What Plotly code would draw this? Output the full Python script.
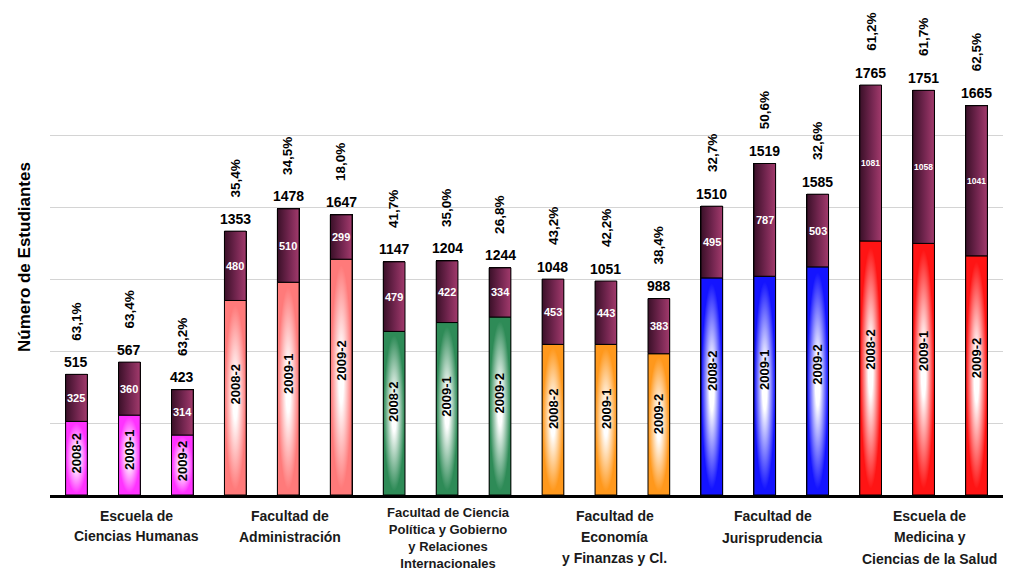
import plotly.graph_objects as go

# ---------------- data ----------------
groups = [
    ["Escuela de", "Ciencias Humanas"],
    ["Facultad de", "Administración"],
    ["Facultad de Ciencia", "Política y Gobierno", "y Relaciones", "Internacionales"],
    ["Facultad de", "Economía", "y Finanzas y Cl."],
    ["Facultad de", "Jurisprudencia"],
    ["Escuela de", "Medicina y", "Ciencias de la Salud"],
]
periods = ["2008-2", "2009-1", "2009-2"]

# labels printed on the chart
total_labels = [515, 567, 423, 1353, 1478, 1647, 1147, 1204, 1244,
                1048, 1051, 988, 1510, 1519, 1585, 1765, 1751, 1665]
inner_labels = [325, 360, 314, 480, 510, 299, 479, 422, 334,
                453, 443, 383, 495, 787, 503, 1081, 1058, 1041]
pct_labels = ["63,1%", "63,4%", "63,2%", "35,4%", "34,5%", "18,0%",
              "41,7%", "35,0%", "26,8%", "43,2%", "42,2%", "38,4%",
              "32,7%", "50,6%", "32,6%", "61,2%", "61,7%", "62,5%"]

# segment heights as drawn
lower_values = [307, 333, 250, 811, 887, 983, 682, 719, 742,
                628, 628, 589, 905, 912, 951, 1059, 1049, 997]
upper_values = [196, 221, 189, 289, 306, 185, 290, 257, 205,
                272, 264, 230, 299, 470, 303, 650, 638, 626]

# ---------------- style ----------------
FONT = "Liberation Sans, Arial, sans-serif"
group_colors = ["#ff33ff", "#ff7a7a", "#2e8b57", "#ff981c", "#1414ff", "#ff1414"]
upper_scale = [[0, "#3a1028"], [0.55, "#742650"], [1, "#a23a6c"]]
group_line_gap = [20, 21.5, 0, 21, 22, 21.7]   # 0 -> one wrapped block
group_xshift = [7, 2, 1, 9, 8, 6]
BAR_W = 0.41

n = len(total_labels)
xs = list(range(n))
fig = go.Figure()

# base bars (stacked)
lower_cols = [group_colors[i // 3] for i in xs]
fig.add_trace(go.Bar(x=xs, y=lower_values, width=BAR_W,
                     marker=dict(color=lower_cols, line=dict(color="black", width=1)),
                     hoverinfo="skip", showlegend=False))
fig.add_trace(go.Bar(x=xs, y=upper_values, width=BAR_W,
                     marker=dict(color="#742650", line=dict(color="black", width=1)),
                     hoverinfo="skip", showlegend=False))

# gradient overlays matching each bar segment
for i in xs:
    x0, x1 = i - BAR_W / 2, i + BAR_W / 2
    lo = lower_values[i]
    hi = lower_values[i] + upper_values[i]
    col = group_colors[i // 3]
    fig.add_trace(go.Scatter(
        x=[x0, x1, x1, x0, x0], y=[0, 0, lo, lo, 0], mode="lines", fill="toself",
        line=dict(color="black", width=1),
        fillgradient=dict(type="radial",
                          colorscale=[[0, "#ffffff"], [0.22, "#ffffff"], [0.95, col], [1, col]]),
        hoverinfo="skip", showlegend=False))
    fig.add_trace(go.Scatter(
        x=[x0, x1, x1, x0, x0], y=[lo, lo, hi, hi, lo], mode="lines", fill="toself",
        line=dict(color="black", width=1),
        fillgradient=dict(type="horizontal", colorscale=upper_scale),
        hoverinfo="skip", showlegend=False))

ann = []
for i in xs:
    lo = lower_values[i]
    hi = lower_values[i] + upper_values[i]
    ann.append(dict(x=i, y=hi, yshift=12.5, text=str(total_labels[i]), showarrow=False,
                    xanchor="center", yanchor="middle",
                    font=dict(family=FONT, size=14, color="black", weight="bold")))
    ann.append(dict(x=i, y=hi, yshift=53, text=pct_labels[i], showarrow=False, textangle=-90,
                    xanchor="center", yanchor="middle",
                    font=dict(family=FONT, size=13.5, color="black", weight="bold")))
    s = str(inner_labels[i])
    ann.append(dict(x=i, y=lo + upper_values[i] / 2, text=s, showarrow=False,
                    xanchor="center", yanchor="middle",
                    font=dict(family=FONT, size=11 if len(s) == 3 else 8.5, color="white", weight="bold")))
    ann.append(dict(x=i, y=lo * 0.57, text=periods[i % 3], showarrow=False, textangle=-90,
                    xanchor="center", yanchor="middle",
                    font=dict(family=FONT, size=13, color="black", weight="bold")))

for g, lines in enumerate(groups):
    if group_line_gap[g] == 0:
        ann.append(dict(x=g * 3 + 1, xref="x", y=0, yref="paper", yshift=-43,
                        xshift=group_xshift[g], text="<br>".join(lines), showarrow=False,
                        xanchor="center", yanchor="middle", align="center",
                        font=dict(family=FONT, size=13, color="#1a1a1a", weight="bold")))
        continue
    for k, line in enumerate(lines):
        ann.append(dict(x=g * 3 + 1, xref="x", y=0, yref="paper", yshift=-20.5 - k * group_line_gap[g],
                        xshift=group_xshift[g], text=line, showarrow=False,
                        xanchor="center", yanchor="middle",
                        font=dict(family=FONT, size=14, color="#1a1a1a", weight="bold")))

ann.append(dict(x=0, xref="paper", xshift=-25, y=0.551, yref="paper", text="Número de Estudiantes",
                showarrow=False, textangle=-90, xanchor="center", yanchor="middle",
                font=dict(family=FONT, size=17, color="black", weight="bold")))

fig.update_layout(
    width=1023, height=579,
    margin=dict(l=50, r=20, t=63, b=84),
    barmode="stack", paper_bgcolor="white", plot_bgcolor="white",
    annotations=ann, showlegend=False,
    xaxis=dict(range=[-0.5, n - 0.5], showgrid=False, zeroline=False, showticklabels=False,
               ticks="", showline=True, linecolor="black", linewidth=3),
    yaxis=dict(range=[0, 1801], tick0=0, dtick=300, showgrid=True, gridcolor="#d4d4d4", gridwidth=1,
               zeroline=False, showticklabels=False, ticks="", showline=False),
)

fig.write_html("out.html", config={"displayModeBar": False},
               post_script="document.body.style.margin='0';document.body.style.overflow='hidden';")
